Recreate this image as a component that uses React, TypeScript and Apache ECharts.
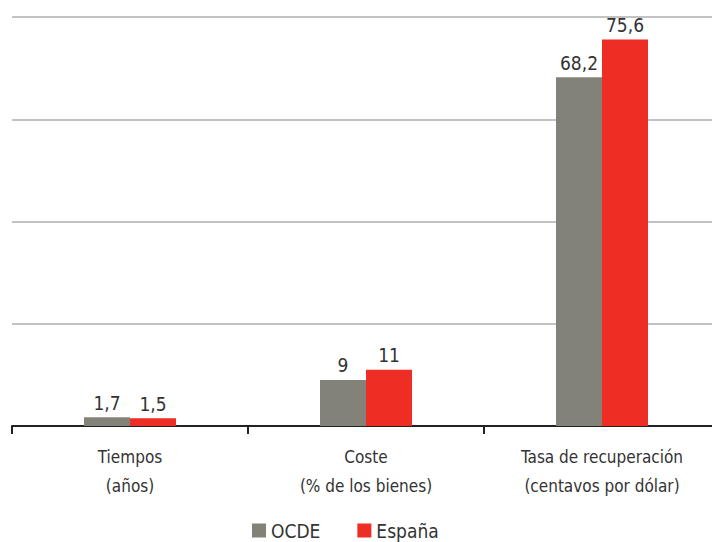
import React, { useEffect, useRef } from "react";
import * as echarts from "echarts";

const categories = ["Tiempos\n(años)", "Coste\n(% de los bienes)", "Tasa de recuperación\n(centavos por dólar)"];
const ocde = [1.7, 9, 68.2];
const espana = [1.5, 11, 75.6];
const seriesNames = ["OCDE", "España"];

const FONT = "'DejaVu Sans Condensed', 'Liberation Sans Narrow', 'Roboto', sans-serif";
const fmt = (v: number) => String(v).replace(".", ",");

export default function App() {
  const ref = useRef<HTMLDivElement>(null);
  useEffect(() => {
    if (!ref.current) return;
    const chart = echarts.init(ref.current, undefined, { renderer: "svg" });
    const label = {
      show: true,
      position: "top" as const,
      distance: 5,
      color: "#333",
      fontSize: 19,
      fontFamily: FONT,
      formatter: (p: any) => fmt(p.value),
    };
    chart.setOption({
      animation: false,
      textStyle: { fontFamily: FONT },
      legend: {
        top: 516,
        left: 247,
        itemWidth: 14,
        itemHeight: 14,
        itemGap: 37,
        icon: "rect",
        textStyle: { color: "#333", fontSize: 19, fontFamily: FONT },
        data: seriesNames,
      },
      grid: { left: 12, top: 17, width: 708, height: 409, outerBoundsMode: "none", containLabel: false },
      xAxis: {
        type: "category",
        data: categories,
        axisLine: { lineStyle: { color: "#222", width: 2 } },
        axisTick: { show: true, length: 8, lineStyle: { color: "#222", width: 2 } },
        axisLabel: { color: "#333", fontSize: 17, fontFamily: FONT, margin: 16, lineHeight: 29 },
      },
      yAxis: {
        type: "value",
        min: 0,
        max: 80,
        interval: 20,
        axisLabel: { show: false },
        axisLine: { show: false },
        axisTick: { show: false },
        splitLine: { lineStyle: { color: "#c2c2c2", width: 2 } },
      },
      series: [
        { name: seriesNames[0], type: "bar", data: ocde, barWidth: 46, barGap: "0%", itemStyle: { color: "#838279" }, label },
        { name: seriesNames[1], type: "bar", data: espana, barWidth: 46, barGap: "0%", itemStyle: { color: "#ee2d24" }, label },
      ],
    });
    return () => chart.dispose();
  }, []);
  return <div ref={ref} style={{ position: "absolute", left: 0, top: 0, width: 712, height: 542 }} />;
}
